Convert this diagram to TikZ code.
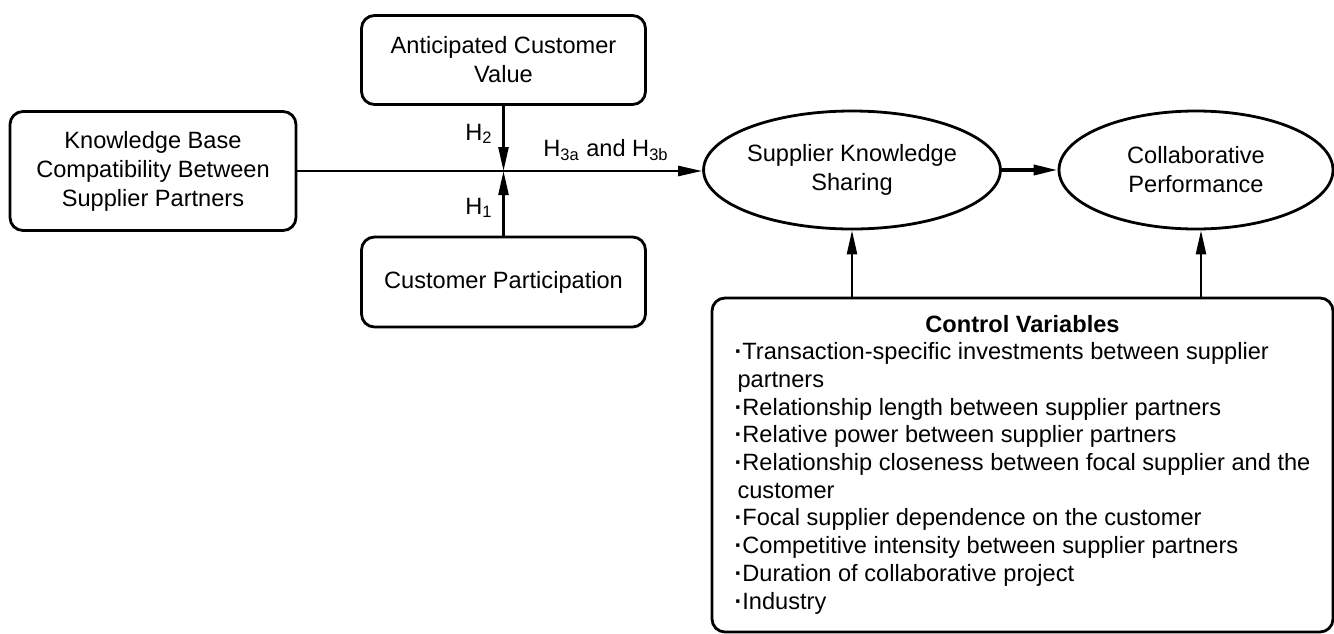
\documentclass[tikz,border=0pt]{standalone}
\usepackage{fontspec}
\setsansfont{Liberation Sans}
\usetikzlibrary{arrows.meta,shapes.geometric}

\begin{document}
\begin{tikzpicture}[x=0.5pt, y=-0.5pt, font=\sffamily\fontsize{11.8}{14.5}\selectfont,
	box/.style={draw, line width=1.4pt, rounded corners=6.5pt, align=center, inner sep=0pt},
	oval/.style={draw, ellipse, line width=1.4pt, align=center, inner sep=0pt},
	arr/.style={line width=1.2pt, -{Triangle[length=12pt, width=5pt]}}]
	\useasboundingbox (0,0) rectangle (1334,633);
	
	% Antecedent boxes
	\node[box, minimum width=143pt, minimum height=59.5pt] (kb) at (153,171) {Knowledge Base\\Compatibility Between\\Supplier Partners};
	\node[box, minimum width=142pt, minimum height=44.5pt] (acv) at (503.5,60) {Anticipated Customer\\Value};
	\node[box, minimum width=142pt, minimum height=45pt] (cpart) at (503.5,282) {Customer Participation};
	
	% Outcome ellipses
	\node[oval, minimum width=142pt, minimum height=59pt] (sks) at (852,170) {Supplier Knowledge\\Sharing};
	\node[oval, minimum width=137pt, minimum height=59pt] (cperf) at (1196,170) {Collaborative\\Performance};
	
	% Control variables
	\node[box, minimum width=310.5pt, minimum height=167pt] (cv) at (1022.5,465) {\fontsize{11.8}{13.85}\selectfont
		\begin{tabular}{@{}l@{}}
			\multicolumn{1}{@{}c@{}}{\bfseries Control Variables}\\
			{\bfseries·}Transaction-specific investments between supplier\\
			\hspace{1.5pt}partners\\
			{\bfseries·}Relationship length between supplier partners\\
			{\bfseries·}Relative power between supplier partners\\
			{\bfseries·}Relationship closeness between focal supplier and the\\
			\hspace{1.5pt}customer\\
			{\bfseries·}Focal supplier dependence on the customer\\
			{\bfseries·}Competitive intensity between supplier partners\\
			{\bfseries·}Duration of collaborative project\\
			{\bfseries·}Industry
		\end{tabular}};
	
	% Hypothesis labels
	\node (h2) at (479,134) {H\textsubscript{2}};
	\node (h1) at (479,208) {H\textsubscript{1}};
	\node (h3) at (606,150) {H\textsubscript{3a} and H\textsubscript{3b}};
	
	% Connectors
	\coordinate (jn) at (acv.south |- kb.east);
	\coordinate (cpin) at ([xshift=2.5pt]cperf.south);
	\draw[arr] (kb.east) -- (kb.east -| sks.west);
	\draw[arr] (acv) -- (jn);
	\draw[arr] (cpart) -- (jn);
	\draw[arr, line width=1.8pt] (sks.east) -- (cperf.west);
	\draw[arr] (cv.north -| sks.south) -- (sks.south);
	\draw[arr] (cv.north -| cpin) -- (cpin);
	
\end{tikzpicture}
\end{document}
